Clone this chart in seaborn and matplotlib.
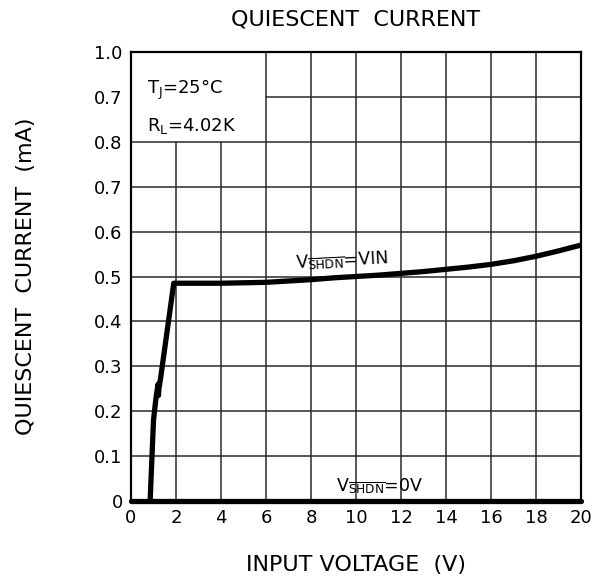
import numpy as np
import pandas as pd
import matplotlib
matplotlib.use("Agg")
import matplotlib.pyplot as plt
import seaborn as sns

sns.set_theme(style="white")
plt.rcParams.update({'font.family': ['DejaVu Sans'], 'mathtext.fontset': 'dejavusans'})

# VSHDN = VIN curve (input voltage V, quiescent current mA)
vin_x = [0.85, 1.0, 1.1, 1.2, 1.22, 1.24, 1.32, 1.9, 3.0, 4.0, 5.0, 6.0, 7.0, 8.0, 9.0,
         10.0, 11.0, 12.0, 13.0, 14.0, 15.0, 16.0, 17.0, 18.0, 19.0, 20.0]
vin_y = [0.0, 0.18, 0.225, 0.26, 0.235, 0.25, 0.275, 0.485, 0.485, 0.485, 0.486, 0.487, 0.490,
         0.493, 0.497, 0.500, 0.503, 0.507, 0.511, 0.516, 0.521, 0.527, 0.535, 0.545, 0.557, 0.570]
# VSHDN = 0V curve
off_x = [0.0, 20.0]
off_y = [0.0, 0.0]

x_ticks = [0, 2, 4, 6, 8, 10, 12, 14, 16, 18, 20]
y_ticks = [0, 0.1, 0.2, 0.3, 0.4, 0.5, 0.6, 0.7, 0.8, 0.9, 1.0]
y_tick_labels = ['0', '0.1', '0.2', '0.3', '0.4', '0.5', '0.6', '0.7', '0.8', '0.7', '1.0']

df_vin = pd.DataFrame({'v': vin_x, 'i': vin_y})
df_off = pd.DataFrame({'v': off_x, 'i': off_y})

fig = plt.figure(figsize=(6.06, 5.84), dpi=100)
ax = fig.add_axes([131/606, 83/584, 450/606, 449/584])

ax.set_xlim(0, 20)
ax.set_ylim(0, 1.0)

# grid drawn by hand so the label box can stay clear
grid_kw = dict(color='#2a2a2a', lw=1.1, zorder=1)
for yv in y_ticks[1:-1]:
    xmin = 6 / 20 if yv > 0.8 else 0
    ax.axhline(yv, xmin=xmin, xmax=1, **grid_kw)
for xv in x_ticks[1:-1]:
    ymax = 0.8 if xv < 6 else 1.0
    ax.axvline(xv, ymin=0, ymax=ymax, **grid_kw)

sns.lineplot(data=df_vin, x='v', y='i', ax=ax, color='black', lw=3.8,
             sort=False, estimator=None, zorder=3)
sns.lineplot(data=df_off, x='v', y='i', ax=ax, color='black', lw=3.8,
             sort=False, estimator=None, zorder=3, clip_on=False)

ax.set_xticks(x_ticks)
ax.set_xticklabels([str(t) for t in x_ticks])
ax.set_yticks(y_ticks)
ax.set_yticklabels(y_tick_labels)
ax.tick_params(axis='both', length=0, labelsize=13, colors='black', pad=6)

for s in ax.spines.values():
    s.set_color('black')
    s.set_linewidth(1.6)

ax.set_xlabel('INPUT VOLTAGE  (V)', fontsize=16, color='black', labelpad=20)
ax.set_ylabel('QUIESCENT  CURRENT  (mA)', fontsize=16, color='black', labelpad=42)
fig.text(356/606, 1 - 20/584, 'QUIESCENT  CURRENT', ha='center', va='center',
         fontsize=16, color='black')

ax.text(0.7, 0.915, r'T$_\mathregular{J}$=25°C', fontsize=13, va='center', color='black')
ax.text(0.7, 0.835, r'R$_\mathregular{L}$=4.02K', fontsize=13, va='center', color='black')

ax.text(7.3, 0.507, r'V$_{\overline{\mathregular{SHDN}}}$=VIN', fontsize=12.5,
        rotation=3, va='bottom', color='black')
ax.text(9.1, 0.012, r'V$_{\overline{\mathregular{SHDN}}}$=0V', fontsize=12.5,
        va='bottom', color='black')

fig.savefig('out.png', dpi=100, facecolor='white')
